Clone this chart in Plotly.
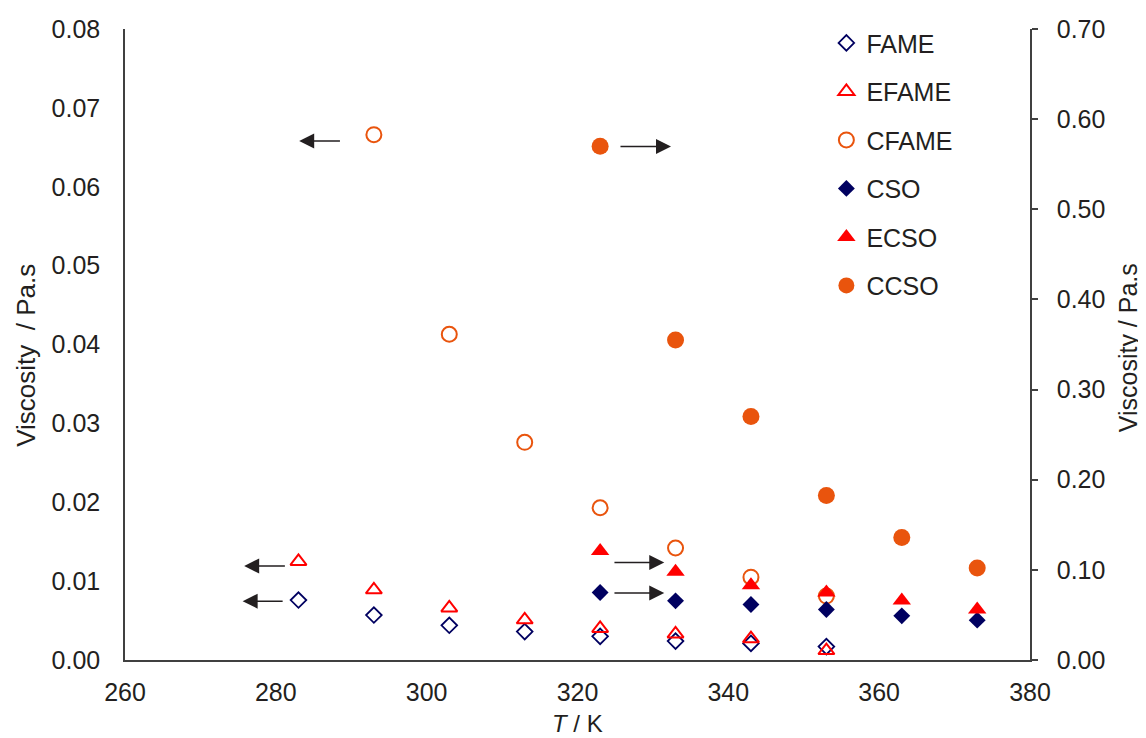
import plotly.graph_objects as go

# ---- data ----
T_fame = [283, 293, 303, 313, 323, 333, 343, 353]
fame = [0.0076, 0.0057, 0.0044, 0.0036, 0.0030, 0.0024, 0.0021, 0.0017]
efame = [0.0125, 0.0089, 0.0066, 0.0051, 0.0040, 0.0033, 0.0027, 0.0012]
T_cfame = [293, 303, 313, 323, 333, 343, 353]
cfame = [0.0666, 0.0413, 0.0276, 0.0193, 0.0142, 0.0105, 0.0081]

T_oil = [323, 333, 343, 353, 363, 373]
cso = [0.0749, 0.0656, 0.0616, 0.0561, 0.0490, 0.0442]
ecso = [0.121, 0.098, 0.083, 0.075, 0.066, 0.056]
ccso = [0.570, 0.355, 0.270, 0.1825, 0.136, 0.102]

# arrows (left-axis data units): head x, tail x, y
arrow_head_x = [283.1, 332.4, 275.8, 275.6, 331.5, 331.5]
arrow_tail_x = [288.7, 325.5, 281.4, 281.1, 324.7, 324.7]
arrow_y = [0.0658, 0.0651, 0.01192, 0.00746, 0.01235, 0.0085]

x_title = "<i>T</i> / K"
y_title_left = "Viscosity  / Pa.s"
y_title_right = "Viscosity / Pa.s"

NAVY = "#000060"
RED = "#ff0000"
ORANGE = "#e9540d"
INK = "#231f20"
FONT = "Liberation Sans, Arial, sans-serif"

fig = go.Figure()
fig.add_trace(go.Scatter(x=T_fame, y=fame, mode="markers", name="FAME", legendgroup="a",
                         marker=dict(symbol="diamond-open", size=12, color=NAVY, line=dict(width=1.8, color=NAVY))))
fig.add_trace(go.Scatter(x=T_fame, y=efame, mode="markers", name="EFAME", legendgroup="b",
                         marker=dict(symbol="triangle-up-open", size=14, color=RED, line=dict(width=2, color=RED))))
fig.add_trace(go.Scatter(x=T_cfame, y=cfame, mode="markers", name="CFAME", legendgroup="c",
                         marker=dict(symbol="circle-open", size=15, color=ORANGE, line=dict(width=2, color=ORANGE))))
fig.add_trace(go.Scatter(x=T_oil, y=cso, mode="markers", name="CSO", yaxis="y2", legendgroup="d",
                         marker=dict(symbol="diamond", size=13, color=NAVY)))
fig.add_trace(go.Scatter(x=T_oil, y=ecso, mode="markers", name="ECSO", yaxis="y2", legendgroup="e",
                         marker=dict(symbol="triangle-up", size=16, color=RED)))
fig.add_trace(go.Scatter(x=T_oil, y=ccso, mode="markers", name="CCSO", yaxis="y2", legendgroup="f",
                         marker=dict(symbol="circle", size=17, color=ORANGE)))

for hx, tx, ay in zip(arrow_head_x, arrow_tail_x, arrow_y):
    fig.add_annotation(x=hx, y=ay, ax=tx, ay=ay, xref="x", yref="y", axref="x", ayref="y",
                       text="", showarrow=True, arrowhead=2, arrowsize=2.0, arrowwidth=1.5,
                       arrowcolor=INK, standoff=0, startstandoff=0)

# axis titles placed as annotations for exact positioning
fig.add_annotation(text=x_title, xref="paper", yref="paper", x=0.5, y=0, xanchor="center",
                   yanchor="middle", yshift=-63, showarrow=False, font=dict(size=24, color=INK))
fig.add_annotation(text=y_title_left, xref="paper", yref="paper", x=0, y=0.482, xanchor="center",
                   yanchor="middle", xshift=-99, textangle=-90, showarrow=False,
                   font=dict(size=26, color=INK))
fig.add_annotation(text=y_title_right, xref="paper", yref="paper", x=1, y=0.494, xanchor="center",
                   yanchor="middle", xshift=98, textangle=-90, showarrow=False,
                   font=dict(size=25, color=INK))

axis_line = dict(showline=True, linecolor="#404040", linewidth=1.5, showgrid=False,
                 zeroline=False, automargin=False)

# page body has an 8px margin, so the figure is 8px smaller than the window
fig.update_layout(
    template="none",
    width=1138, height=730,
    paper_bgcolor="white", plot_bgcolor="white",
    margin=dict(l=117, r=116, t=21, b=78),
    font=dict(family=FONT, size=25, color=INK),
    showlegend=True,
    legend=dict(x=0.775, y=1.014, xanchor="left", yanchor="top", bgcolor="rgba(0,0,0,0)",
                font=dict(size=25, color=INK), tracegroupgap=13, itemwidth=30),
    xaxis=dict(range=[260, 380], tickvals=[260, 280, 300, 320, 340, 360, 380], ticks="",
               ticklabelstandoff=9, **axis_line),
    yaxis=dict(range=[0, 0.08], tickvals=[0, 0.01, 0.02, 0.03, 0.04, 0.05, 0.06, 0.07, 0.08],
               tickformat=".2f", ticks="", ticklabelstandoff=18, **axis_line),
    yaxis2=dict(range=[0, 0.70], overlaying="y", side="right",
                tickvals=[0, 0.1, 0.2, 0.3, 0.4, 0.5, 0.6, 0.7], tickformat=".2f",
                ticks="outside", ticklen=6, tickwidth=1.5, tickcolor="#404040", ticklabelstandoff=14,
                **axis_line),
)

fig.write_html("out.html")
